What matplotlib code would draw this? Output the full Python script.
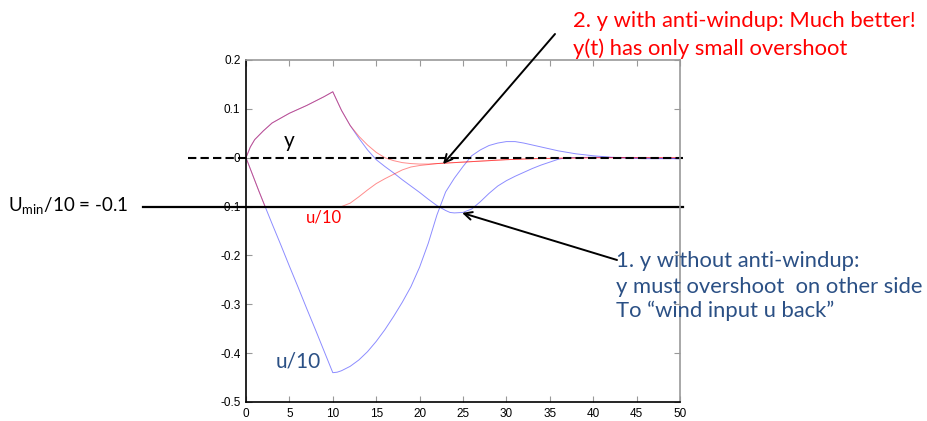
import numpy as np
import matplotlib
matplotlib.use('Agg')
import matplotlib.pyplot as plt

plt.rcParams['font.family'] = ['Liberation Sans', 'DejaVu Sans']
plt.rcParams['mathtext.fontset'] = 'custom'
plt.rcParams['mathtext.rm'] = 'Lato'
plt.rcParams['mathtext.it'] = 'Lato'

# ---- data ----------------------------------------------------------------
# 1. without anti-windup (blue)
t_y_nw = [0, 0.5, 1, 2, 3, 4, 5, 6, 7, 8, 9, 10, 11, 12, 13, 14,
          15, 16, 17, 18, 19, 20, 21, 22, 23, 23.5, 24, 25, 26, 27, 28, 29,
          30, 31, 32, 33, 34, 35, 36, 37, 40, 45, 50]
y_nw = [0, 0.022, 0.037, 0.055, 0.071, 0.081, 0.091, 0.099, 0.107, 0.116,
        0.125, 0.135, 0.097, 0.066, 0.040, 0.016, -0.004,
        -0.018, -0.031, -0.045, -0.058, -0.071, -0.085, -0.098, -0.108,
        -0.112, -0.113, -0.112, -0.105, -0.090, -0.073, -0.058, -0.047,
        -0.038, -0.030, -0.022, -0.015, -0.009, -0.003, 0.0, 0.001, 0.0,
        -0.002]

t_u_nw = [0, 0.5, 1, 1.5, 2.2, 3, 4, 5, 6, 7, 8, 9, 10, 10.5, 11, 12, 13, 14,
          15, 16, 17, 18, 19, 20, 21, 22, 23, 24, 25, 26, 27, 28, 29, 30, 31,
          32, 33, 34, 35, 36, 37, 38, 39, 40, 42, 44, 46, 50]
u_nw = [0, -0.023, -0.046, -0.069, -0.1, -0.135, -0.178, -0.222, -0.265,
        -0.309, -0.352, -0.396, -0.44, -0.439, -0.436, -0.427, -0.414, -0.397,
        -0.376, -0.352, -0.325, -0.296, -0.264, -0.224, -0.175, -0.117,
        -0.07, -0.042, -0.018, 0.004, 0.016, 0.025, 0.030, 0.033, 0.033,
        0.030, 0.026, 0.022, 0.018, 0.014, 0.011, 0.008, 0.006, 0.004, 0.001,
        -0.001, -0.002, -0.002]

# 2. with anti-windup (red)
t_y_aw = [0, 0.5, 1, 2, 3, 4, 5, 6, 7, 8, 9, 10, 11, 12, 13, 14,
          15, 16, 17, 18, 19, 20, 21, 22, 23, 25, 27, 30, 33, 36, 40, 50]
y_aw = [0, 0.022, 0.037, 0.055, 0.071, 0.081, 0.091, 0.099, 0.107, 0.116,
        0.125, 0.135, 0.097, 0.066, 0.044, 0.026, 0.011, 0.0,
        -0.006, -0.010, -0.012, -0.013, -0.013, -0.012, -0.011, -0.009,
        -0.007, -0.004, -0.002, -0.001, 0.0, 0.0]

t_u_aw = [0, 0.5, 1, 1.5, 2.2, 5, 8, 11, 12, 13, 14, 15, 16, 17, 18, 19, 20,
          21, 22, 23, 25, 27, 30, 33, 36, 40, 50]
u_aw = [0, -0.023, -0.046, -0.069, -0.1, -0.1, -0.1, -0.1, -0.093, -0.08,
        -0.066, -0.053, -0.043, -0.034, -0.025, -0.019, -0.016, -0.014,
        -0.012, -0.011, -0.009, -0.007, -0.004, -0.002, -0.001, 0.0, 0.0]

u_min = -0.1
x_ticks = [0, 5, 10, 15, 20, 25, 30, 35, 40, 45, 50]
y_ticks = [-0.5, -0.4, -0.3, -0.2, -0.1, 0, 0.1, 0.2]

# ---- figure --------------------------------------------------------------
W, H = 928, 421
fig = plt.figure(figsize=(W / 100, H / 100), dpi=100)
ax = fig.add_axes([246 / W, 19 / H, 434 / W, 342 / H])

ax.plot(t_y_nw, y_nw, color='blue', alpha=0.45, lw=0.7)
ax.plot(t_u_nw, u_nw, color='blue', alpha=0.45, lw=0.7)
ax.plot(t_y_aw, y_aw, color='red', alpha=0.45, lw=0.7)
ax.plot(t_u_aw, u_aw, color='red', alpha=0.45, lw=0.7)

# reference lines that run outside the axes
ax.plot([-11.9, 50.3], [u_min, u_min], color='black', lw=1.6, clip_on=False)
ax.plot([-6.7, 50.3], [0, 0], color='black', lw=1.5, ls=(0, (4, 2)),
        clip_on=False)

ax.set_xlim(0, 50)
ax.set_ylim(-0.5, 0.2)
ax.set_xticks(x_ticks)
ax.set_yticks(y_ticks)
ax.set_yticklabels(['-0.5', '-0.4', '-0.3', '-0.2', '-0.1', '0', '0.1', '0.2'])
ax.tick_params(direction='in', length=4, color='#999999', labelsize=8.5,
               top=True, right=True, pad=4)
for s in ['left', 'bottom']:
    ax.spines[s].set_color('black')
    ax.spines[s].set_linewidth(1.2)
for s in ['top', 'right']:
    ax.spines[s].set_color('#999999')
    ax.spines[s].set_linewidth(1.2)


def px(x, y):
    return x / W, 1 - y / H


lat = ['Lato', 'DejaVu Sans']
dark_blue = '#2b5085'
big = 15.8

fig.text(*px(289, 141), 'y', fontsize=15, family=lat, va='center', ha='center')
fig.text(*px(324, 218), 'u/10', fontsize=12, family=lat, color='red',
         va='center', ha='center')
fig.text(*px(298, 361), 'u/10', fontsize=15, family=lat, color=dark_blue,
         va='center', ha='center')
fig.text(*px(8, 205), r'U$_{\mathrm{min}}$/10 = -0.1', fontsize=13.5,
         family=lat, va='center', ha='left')

fig.text(*px(573, 21), '2. y with anti-windup: Much better!', fontsize=big,
         family=lat, color='red', va='center', ha='left')
fig.text(*px(573, 49), 'y(t) has only small overshoot', fontsize=big,
         family=lat, color='red', va='center', ha='left')

fig.text(*px(616, 261), '1. y without anti-windup:', fontsize=big,
         family=lat, color=dark_blue, va='center', ha='left')
fig.text(*px(616, 287), 'y must overshoot  on other side', fontsize=big,
         family=lat, color=dark_blue, va='center', ha='left')
fig.text(*px(616, 311), 'To \u201cwind input u back\u201d', fontsize=big,
         family=lat, color=dark_blue, va='center', ha='left')

ax.annotate('', xy=(22.7, -0.013), xycoords='data',
            xytext=(555, H - 34), textcoords='figure pixels',
            arrowprops=dict(arrowstyle='->', color='black', lw=1.4,
                            mutation_scale=14, shrinkA=0, shrinkB=0))
ax.annotate('', xy=(24.9, -0.113), xycoords='data',
            xytext=(617, H - 260), textcoords='figure pixels',
            arrowprops=dict(arrowstyle='->', color='black', lw=1.4,
                            mutation_scale=14, shrinkA=0, shrinkB=0))

fig.savefig('out.png', dpi=100)
